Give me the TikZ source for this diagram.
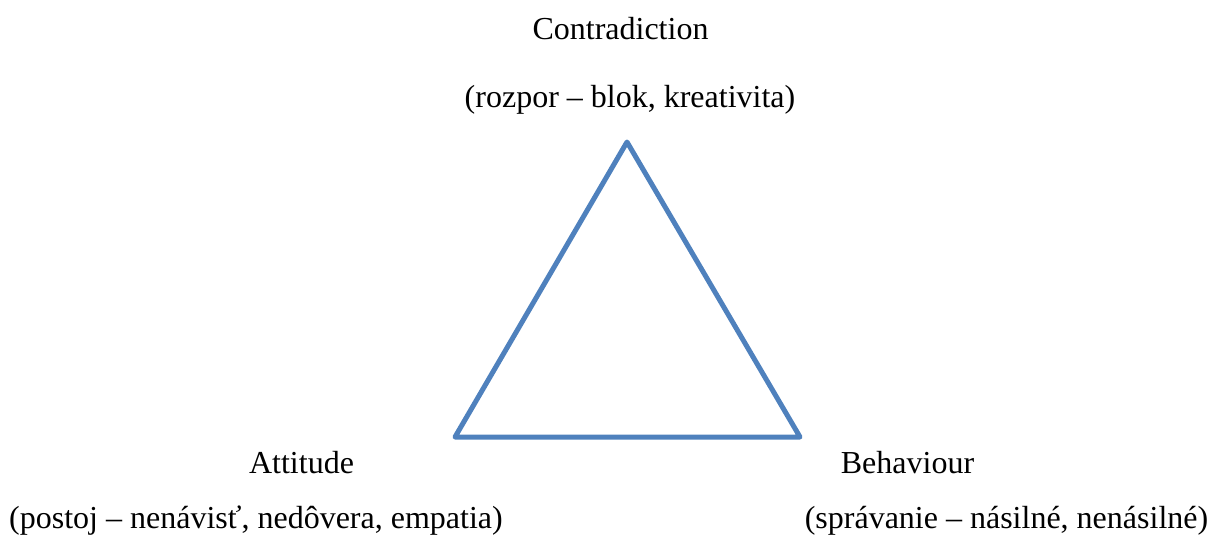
\documentclass[tikz,border=0pt]{standalone}
\usepackage{fontspec}
\setmainfont{Liberation Serif}
\definecolor{triblue}{HTML}{4F81BD}
\begin{document}
\begin{tikzpicture}[x=1pt,y=-1pt,
  lbl/.style={anchor=base,inner sep=0pt,font=\fontsize{32}{38}\selectfont},
  edge/.style={draw=triblue,line width=5pt,line join=round,line cap=round}]
\useasboundingbox (0,0) rectangle (1212,536);
% corners of the triangle
\coordinate (top) at (627,142);
\coordinate (left) at (455,437);
\coordinate (right) at (800,437);
\draw[edge] (top) -- (right) -- (left) -- cycle;
% labels at the corners
\node[lbl] (contr) at (620.5,39) {Contradiction};
\node[lbl] (contrsub) at (630,107) {(rozpor – blok, kreativita)};
\node[lbl] (att) at (301.5,473) {Attitude};
\node[lbl] (attsub) at (256,528.5) {(postoj – nenávisť, nedôvera, empatia)};
\node[lbl] (beh) at (907.5,473) {Behaviour};
\node[lbl] (behsub) at (1006.5,528.5) {(správanie – násilné, nenásilné)};
\end{tikzpicture}
\end{document}
